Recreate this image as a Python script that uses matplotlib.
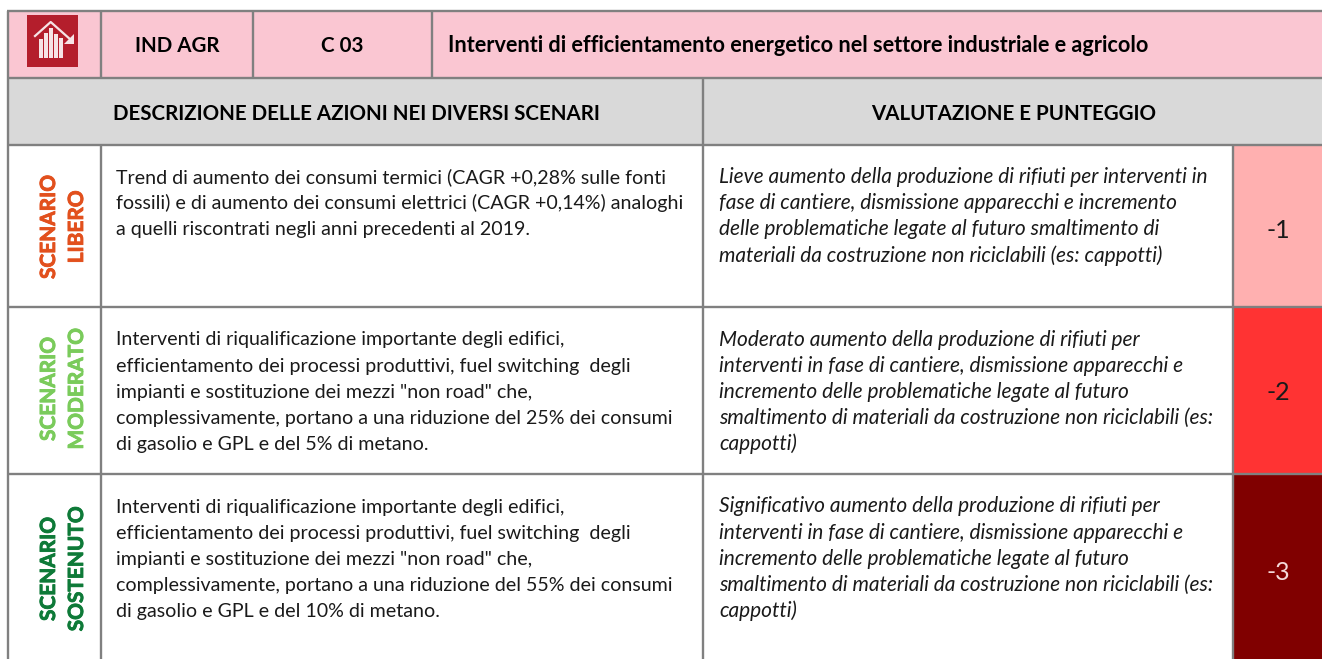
import matplotlib
matplotlib.use("Agg")
import matplotlib.pyplot as plt
import matplotlib.patheffects as pe
from matplotlib.patches import Rectangle, Polygon

plt.rcParams['font.family'] = ['Lato', 'DejaVu Sans']

header_cells = ["IND AGR", "C 03"]
header_title = "Interventi di efficientamento energetico nel settore industriale e agricolo"
section_titles = ["DESCRIZIONE DELLE AZIONI NEI DIVERSI SCENARI", "VALUTAZIONE E PUNTEGGIO"]
scenario_labels = ["SCENARIO\nLIBERO", "SCENARIO\nMODERATO", "SCENARIO\nSOSTENUTO"]
scenario_colors = ["#E2501D", "#7ACB5B", "#0E7A38"]
descriptions = [
    ["Trend di aumento dei consumi termici (CAGR +0,28% sulle fonti",
     "fossili) e di aumento dei consumi elettrici (CAGR +0,14%) analoghi",
     "a quelli riscontrati negli anni precedenti al 2019."],
    ["Interventi di riqualificazione importante degli edifici,",
     "efficientamento dei processi produttivi, fuel switching  degli",
     "impianti e sostituzione dei mezzi \"non road\" che,",
     "complessivamente, portano a una riduzione del 25% dei consumi",
     "di gasolio e GPL e del 5% di metano."],
    ["Interventi di riqualificazione importante degli edifici,",
     "efficientamento dei processi produttivi, fuel switching  degli",
     "impianti e sostituzione dei mezzi \"non road\" che,",
     "complessivamente, portano a una riduzione del 55% dei consumi",
     "di gasolio e GPL e del 10% di metano."],
]
evaluations = [
    ["Lieve aumento della produzione di rifiuti per interventi in",
     "fase di cantiere, dismissione apparecchi e incremento",
     "delle problematiche legate al futuro smaltimento di",
     "materiali da costruzione non riciclabili (es: cappotti)"],
    ["Moderato aumento della produzione di rifiuti per",
     "interventi in fase di cantiere, dismissione apparecchi e",
     "incremento delle problematiche legate al futuro",
     "smaltimento di materiali da costruzione non riciclabili (es:",
     "cappotti)"],
    ["Significativo aumento della produzione di rifiuti per",
     "interventi in fase di cantiere, dismissione apparecchi e",
     "incremento delle problematiche legate al futuro",
     "smaltimento di materiali da costruzione non riciclabili (es:",
     "cappotti)"],
]
scores = ["-1", "-2", "-3"]
score_colors = ["#FFB0B0", "#FF3333", "#800000"]
score_text_colors = ["#1a1a1a", "#1a1a1a", "#F4D9D9"]

W, H = 1322, 659
fig = plt.figure(figsize=(W / 100, H / 100), dpi=100)
ax = fig.add_axes([0, 0, 1, 1])
ax.set_xlim(0, W)
ax.set_ylim(H, 0)
ax.axis("off")

L, C1, C2, C3, MID, SC, R = 8, 101, 253, 432, 703, 1233, 1323
Y0, Y1, Y2, Y3, Y4, Y5 = 11, 78, 145, 307, 474, 660
rows = [(Y2, Y3), (Y3, Y4), (Y4, Y5)]
GRID = "#808080"
TXT = "#1a1a1a"
FS = 14.15
FSI = 15.0
FSB = 14.8

ax.add_patch(Rectangle((L, Y0), R - L, Y1 - Y0, fc="#FAC6D2", ec="none"))
ax.add_patch(Rectangle((L, Y1), R - L, Y2 - Y1, fc="#D9D9D9", ec="none"))
for (a, b), c in zip(rows, score_colors):
    ax.add_patch(Rectangle((SC, a), R - SC, b - a, fc=c, ec="none"))

# icon
ICON = "#F6E4E6"
ax.add_patch(Rectangle((26.5, 15), 51.5, 52, fc="#B41E2C", ec="none"))
ax.add_line(plt.Line2D([35, 50.7, 71], [36, 22, 40], color=ICON, lw=1.6))
for x, top in zip((41, 46, 51, 56, 61), (39, 33, 28, 34, 38)):
    ax.add_patch(Rectangle((x - 1.7, top), 3.4, 58 - top, fc=ICON, ec="none"))
ax.add_patch(Polygon([[74, 34], [74, 43.5], [64, 43.5]], fc=ICON, ec="none"))

# grid
hl = dict(color=GRID, lw=1.7, solid_capstyle="butt")
for y in (Y0, Y1, Y2, Y3, Y4):
    ax.plot([L - 1, R], [y, y], **hl)
ax.plot([L, L], [Y0, Y5], **hl)
ax.plot([C1, C1], [Y0, Y1], **hl)
ax.plot([C1, C1], [Y2, Y5], **hl)
ax.plot([C2, C2], [Y0, Y1], **hl)
ax.plot([C3, C3], [Y0, Y1], **hl)
ax.plot([MID, MID], [Y1, Y5], **hl)
ax.plot([SC, SC], [Y2, Y5], **hl)

# header
bold = dict(va="baseline", fontweight="bold", color="black")
ax.text(177.5, 52.5, header_cells[0], ha="center", fontsize=FSB, **bold)
ax.text(342, 52.5, header_cells[1], ha="center", fontsize=FSB, **bold)
ax.text(448, 52.5, header_title, ha="left", fontsize=15.55, **bold)
ax.text(356, 120.5, section_titles[0], ha="center", fontsize=FSB, **bold)
ax.text(1014, 120.5, section_titles[1], ha="center", fontsize=FSB, **bold)

# rows
baselines = [183, 345.5, 512.5]
label_cy = [227, 389, 569]
score_cy = [231, 393, 573]
for i, (a, b) in enumerate(rows):
    t = ax.text(63, label_cy[i], scenario_labels[i], rotation=90, ha="center", va="center",
                fontsize=15.0, fontweight="bold", color=scenario_colors[i], linespacing=1.5, multialignment="center")
    t.set_path_effects([pe.withStroke(linewidth=0.6, foreground=scenario_colors[i])])
    for j, line in enumerate(descriptions[i]):
        ax.text(116, baselines[i] + j * 26.2, line, ha="left", va="baseline", fontsize=FS, color=TXT)
    for j, line in enumerate(evaluations[i]):
        ax.text(719, baselines[i] + j * 26.2, line, ha="left", va="baseline", fontsize=FSI, style="italic", color=TXT)
    ax.text(1278, score_cy[i], scores[i], ha="center", va="center", fontsize=18, color=score_text_colors[i])

fig.savefig("out.png", dpi=100)
